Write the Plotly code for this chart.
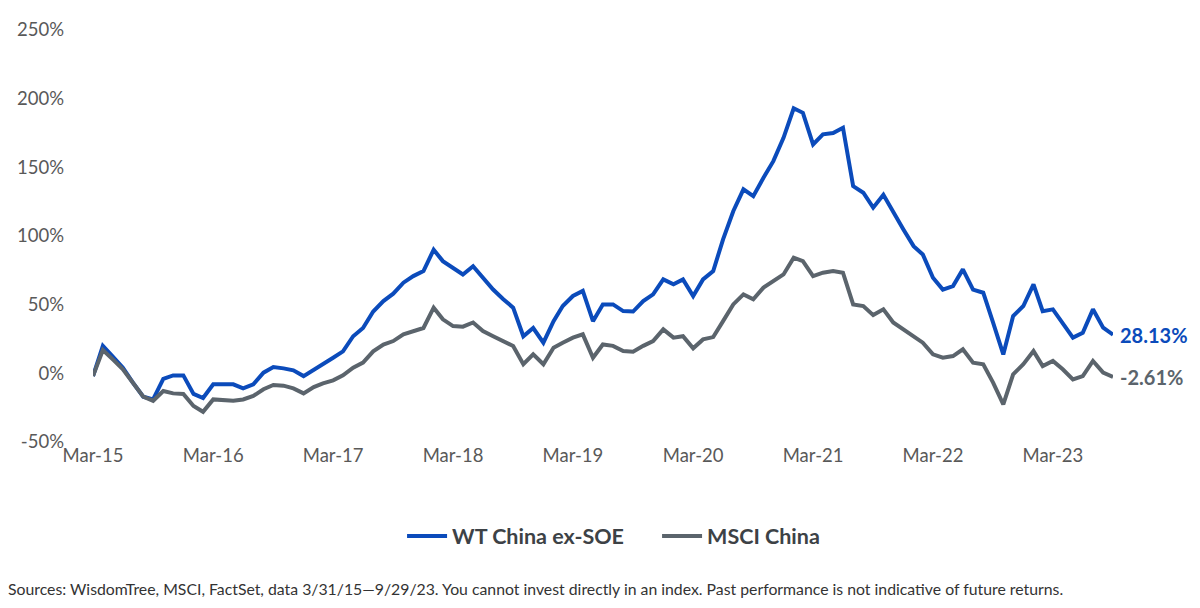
import pandas as pd
import plotly.graph_objects as go

# monthly cumulative returns (%), 3/31/15 - 9/29/23
dates = pd.date_range("2015-03-31", periods=103, freq="ME")

wt_china_ex_soe = [
    -2, 20, 12, 4, -7, -17, -19, -4, -1.5, -1.5, -15, -18,
    -8, -8, -8, -11, -8, 0.5, 4.6, 3.6, 2.2, -2, 2.9, 7.3,
    11.4, 16, 27, 33, 45, 52.6, 58, 66, 70.8, 74.5, 90, 81.7,
    77, 72, 78, 69.6, 61, 54, 47.8, 27, 33, 22.3, 38, 49,
    56.3, 60, 38, 50.2, 50.2, 45.3, 45, 52.6, 57.5, 68.4, 64.8, 68.4,
    56.3, 68.4, 74.5, 97.5, 118, 134, 129, 142.4, 154.5, 171.5, 193, 189.7,
    166.7, 174, 175, 178.8, 136.3, 131.5, 120.6, 130, 117, 104.8, 92.6, 86.6,
    69.6, 61, 63.5, 75.7, 61, 58.7, 36.9, 13.8, 41.7, 49, 64.8, 45.3,
    46.6, 36.9, 26, 29.6, 46.6, 33.3, 28.13,
]
msci_china = [
    -2, 17, 10, 3, -7, -17, -20, -12.9, -14.6, -15, -23.8, -28,
    -19, -19.8, -20, -19, -16.5, -11.6, -8.5, -9, -11, -14.6, -10, -7.3,
    -5.1, -1.5, 4.1, 7.8, 16, 21, 23.5, 28.4, 30.8, 33, 47.8, 39.3,
    34.4, 34, 37, 30.8, 27, 23.5, 19.9, 6.6, 13.8, 6.6, 18.7, 22.3,
    26, 28.4, 11.4, 21, 20, 16.2, 15.8, 20, 23.5, 32, 26, 27,
    18.2, 24.7, 26.4, 38, 50.2, 57.5, 53.9, 62.4, 67.2, 72, 84.2, 81.7,
    70.8, 73.3, 74.5, 73.3, 50.2, 49, 42.4, 46.6, 37, 32, 27, 22.3,
    13.8, 11.4, 12.6, 17.5, 7.8, 6.6, -6.8, -22.6, -0.7, 6.6, 16.2, 5.3,
    9, 2.9, -4.4, -2, 9, 0.5, -2.61,
]

tick_dates = pd.date_range("2015-03-31", periods=9, freq="12ME")
tick_labels = ["Mar-15", "Mar-16", "Mar-17", "Mar-18", "Mar-19",
               "Mar-20", "Mar-21", "Mar-22", "Mar-23"]
y_tick_vals = [-50, 0, 50, 100, 150, 200, 250]
y_tick_labels = ["-50%", "0%", "50%", "100%", "150%", "200%", "250%"]

blue = "#0b4bbb"
grey = "#5b646c"
font = "Lato, 'Source Sans Pro', sans-serif"

fig = go.Figure()
fig.add_trace(go.Scatter(x=dates, y=wt_china_ex_soe, mode="lines", name="WT China ex-SOE",
                         line=dict(color=blue, width=4)))
fig.add_trace(go.Scatter(x=dates, y=msci_china, mode="lines", name="MSCI China",
                         line=dict(color=grey, width=4)))

# end-of-series value labels
fig.add_annotation(x=dates[-1], y=wt_china_ex_soe[-1], text=f"{wt_china_ex_soe[-1]:.2f}%",
                   xanchor="left", xshift=5, showarrow=False,
                   font=dict(color=blue, size=20, family=font, weight="bold"))
fig.add_annotation(x=dates[-1], y=msci_china[-1], text=f"{msci_china[-1]:.2f}%",
                   xanchor="left", xshift=5, showarrow=False,
                   font=dict(color=grey, size=20, family=font, weight="bold"))

fig.add_annotation(
    xref="paper", yref="paper", x=-0.085, y=-0.356, xanchor="left", yanchor="middle",
    text="Sources: WisdomTree, MSCI, FactSet, data 3/31/15\u20149/29/23. You cannot invest directly in an index. "
         "Past performance is not indicative of future returns.",
    showarrow=False, font=dict(size=15.8, color="#333333", family=font))

# the page adds an 8px body margin, so margins are shifted by that much
fig.update_layout(
    width=1200, height=608,
    margin=dict(l=85, r=95, t=22, b=174),
    plot_bgcolor="white", paper_bgcolor="white",
    font=dict(family=font, color="#595959", size=16),
    showlegend=True,
    legend=dict(orientation="h", x=0.303, xanchor="left", y=-0.228, yanchor="middle",
                font=dict(size=21.5, color="#3d4246", family=font, weight="bold"),
                itemwidth=40, entrywidth=200, entrywidthmode="pixels", tracegroupgap=0),
)
fig.update_xaxes(range=[dates[0], dates[-1]], tickvals=tick_dates, ticktext=tick_labels,
                 showgrid=False, zeroline=False, showline=False, ticks="",
                 tickfont=dict(size=18.5), automargin=False)
fig.update_yaxes(range=[-50, 250], tickvals=y_tick_vals, ticktext=y_tick_labels,
                 showgrid=False, zeroline=False, showline=False, ticks="",
                 tickfont=dict(size=18.5), ticklabelstandoff=28, automargin=False)

fig.write_html("out.html")
